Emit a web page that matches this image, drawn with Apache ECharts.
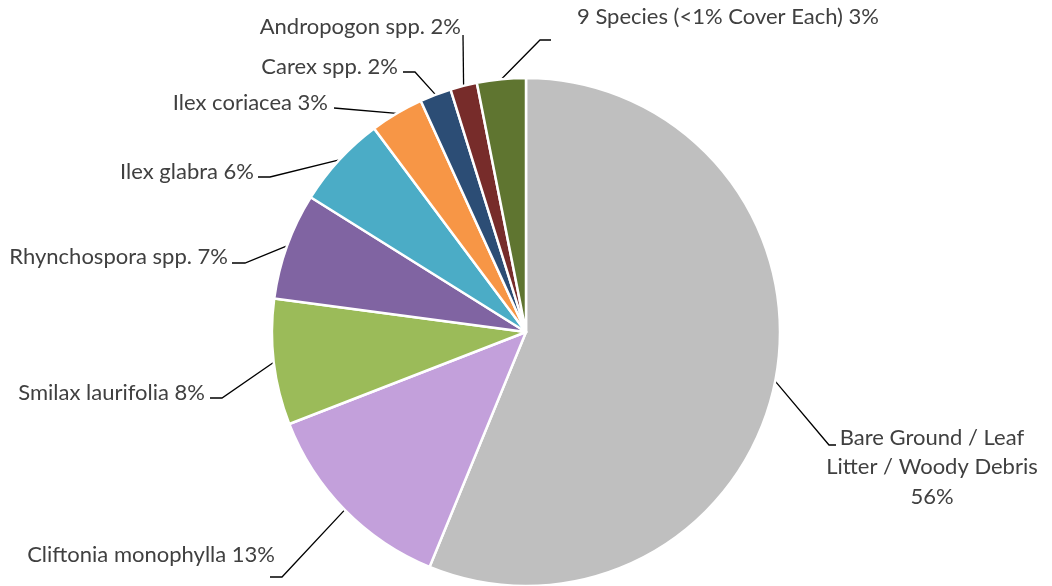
<!DOCTYPE html>
<html>
<head>
<meta charset="utf-8">
<script src="https://cdn.jsdelivr.net/npm/echarts@6/dist/echarts.min.js"></script>
<style>
    html, body { margin: 0; padding: 0; background: #ffffff; }
    #chart { width: 1052px; height: 586px; }
</style>
</head>
<body>
<div id="chart"></div>
<script>
// cover classes, clockwise from 12 o'clock
const categories = [
    "Bare Ground / Leaf\nLitter / Woody Debris",
    "Cliftonia monophylla",
    "Smilax laurifolia",
    "Rhynchospora spp.",
    "Ilex glabra",
    "Ilex coriacea",
    "Carex spp.",
    "Andropogon spp.",
    "9 Species (<1% Cover Each)",
];
const cover = [56.2, 12.9, 8.0, 6.8, 5.9, 3.4, 2.0, 1.7, 3.1];
const colors = ["#bfbfbf", "#c3a0db", "#9bbb59", "#8064a2", "#4bacc6", "#f79646", "#2c4d75", "#772c2a", "#5f7530"];

// label placement (Excel-style manual layout): text anchor x, text y, align, elbow x, line y, line end x
const labelSpots = [
    [932, 467, "center", 829, 445, 836],
    [275, 555, "right", 282, 577, 270],
    [205, 393, "right", 222, 398, 210],
    [228, 257, "right", 245, 263, 232],
    [254, 172, "right", 270, 177, 258],
    [328, 103, "right", 334, 108, 334],
    [398, 67, "right", 415, 72, 403],
    [461, 27, "right", 463, 35, 463],
    [577, 17, "left", 540, 40, 551],
];

const chart = echarts.init(document.getElementById("chart"));

const option = {
    backgroundColor: "#ffffff",
    animation: false,
    color: colors,
    series: [
        {
            type: "pie",
            center: [526, 332],
            radius: 254,
            startAngle: 90,
            clockwise: true,
            itemStyle: { borderColor: "#ffffff", borderWidth: 2.5 },
            label: {
                show: true,
                position: "outside",
                color: "#404040",
                fontFamily: "Lato",
                fontSize: 22,
                lineHeight: 29.5,
                formatter: (p) => {
                    const pct = Math.round(p.percent) + "%";
                    return p.dataIndex === 0 ? p.name + "\n" + pct : p.name + " " + pct;
                },
            },
            labelLine: {
                show: true,
                lineStyle: { color: "#000000", width: 1.3 },
            },
            labelLayout: (params) => {
                const s = labelSpots[params.dataIndex];
                const start = params.labelLinePoints ? params.labelLinePoints[0] : [0, 0];
                return {
                    x: s[0],
                    y: s[1],
                    align: s[2],
                    verticalAlign: "middle",
                    labelLinePoints: [start, [s[3], s[4]], [s[5], s[4]]],
                };
            },
            data: categories.map((name, i) => ({ name: name, value: cover[i] })),
        },
    ],
};

chart.setOption(option);
</script>
</body>
</html>
